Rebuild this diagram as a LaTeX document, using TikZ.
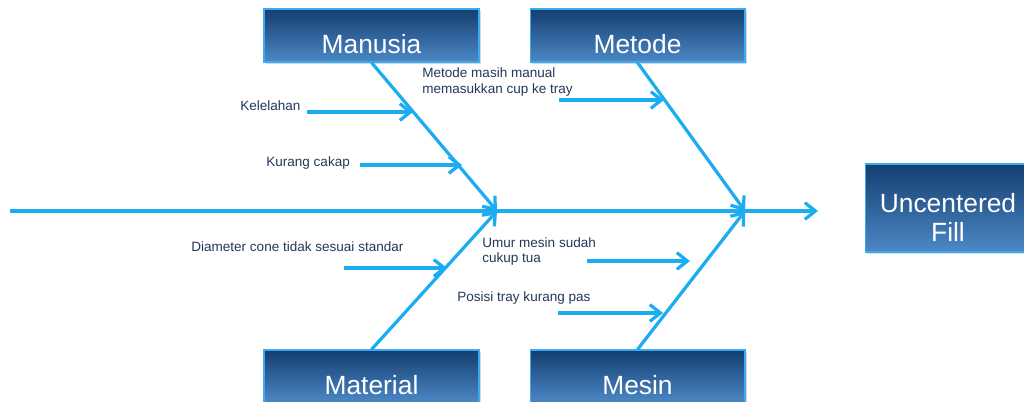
\documentclass[tikz,border=0pt]{standalone}
\usepackage{fontspec}
\setmainfont{Liberation Sans}
\usetikzlibrary{arrows.meta, shadows}

\definecolor{boneblue}{RGB}{28,172,242}
\definecolor{boxtop}{RGB}{20,62,112}
\definecolor{boxbottom}{RGB}{76,136,198}
\definecolor{boxedge}{RGB}{60,170,240}
\definecolor{causetext}{RGB}{32,56,88}

\tikzset{
  bone/.style={draw=boneblue, line width=1.85pt, -{Straight Barb[length=6pt,width=9.5pt]}},
  causebox/.style={draw=boxedge, line width=0.6pt, top color=boxtop, bottom color=boxbottom,
    minimum width=4.3cm, minimum height=1.06cm,
    drop shadow={opacity=0.3, shadow xshift=1.2pt, shadow yshift=-1.2pt}},
  boxlabel/.style={text=white, font=\fontsize{15}{17}\selectfont, align=center, yshift=-0.17cm},
  causetxt/.style={text=causetext, font=\fontsize{7.7}{9}\selectfont, anchor=west, align=left, inner sep=0pt},
}

\begin{document}
\begin{tikzpicture}[x=0.02cm, y=-0.02cm]
  \clip (0,0) rectangle (1024,402);
  % category boxes
  \node[causebox, label={[boxlabel]center:Manusia}] (manusia) at (371.5,35.5) {};
  \node[causebox, label={[boxlabel]center:Metode}] (metode) at (637.5,35.5) {};
  \node[causebox, label={[boxlabel]center:Material}] (material) at (371.5,376.5) {};
  \node[causebox, label={[boxlabel]center:Mesin}] (mesin) at (637.5,376.5) {};
  \node[causebox, minimum width=3.32cm, minimum height=1.76cm,
    label={[boxlabel, yshift=-0.02cm]center:{Uncentered\\Fill}}] (effect) at (948,208) {};
  % spine and bones
  \coordinate (tail) at (10,211);
  \coordinate (head) at (818,211);
  \coordinate (joint1) at (497,211);
  \coordinate (joint2) at (745,211);
  \draw[bone] (tail) -- (head);
  \draw[bone] (manusia.south) -- (joint1);
  \draw[bone] (material.north) -- (joint1);
  \draw[bone] (metode.south) -- (joint2);
  \draw[bone] (mesin.north) -- (joint2);
  % causes
  \node[causetxt] (kelelahan) at (240,106) {Kelelahan};
  \node[causetxt] (cakap) at (266,163) {Kurang cakap};
  \node[causetxt] (manual) at (422,82) {Metode masih manual\\memasukkan cup ke tray};
  \node[causetxt] (diameter) at (191,247) {Diameter cone tidak sesuai standar};
  \node[causetxt] (umur) at (482,251.5) {Umur mesin sudah\\cukup tua};
  \node[causetxt] (posisi) at (457,298) {Posisi tray kurang pas};
  \coordinate (kelelahan-s) at (307,112); \coordinate (kelelahan-e) at (413,112);
  \coordinate (cakap-s) at (360,165);     \coordinate (cakap-e) at (462,165);
  \coordinate (manual-s) at (559,100);    \coordinate (manual-e) at (664,100);
  \coordinate (diameter-s) at (344,268);  \coordinate (diameter-e) at (447,268);
  \coordinate (umur-s) at (587,261);      \coordinate (umur-e) at (690,261);
  \coordinate (posisi-s) at (558,313);    \coordinate (posisi-e) at (663,313);
  \foreach \c in {kelelahan, cakap, manual, diameter, umur, posisi}
    \draw[bone] (\c-s) -- (\c-e);
\end{tikzpicture}
\end{document}
